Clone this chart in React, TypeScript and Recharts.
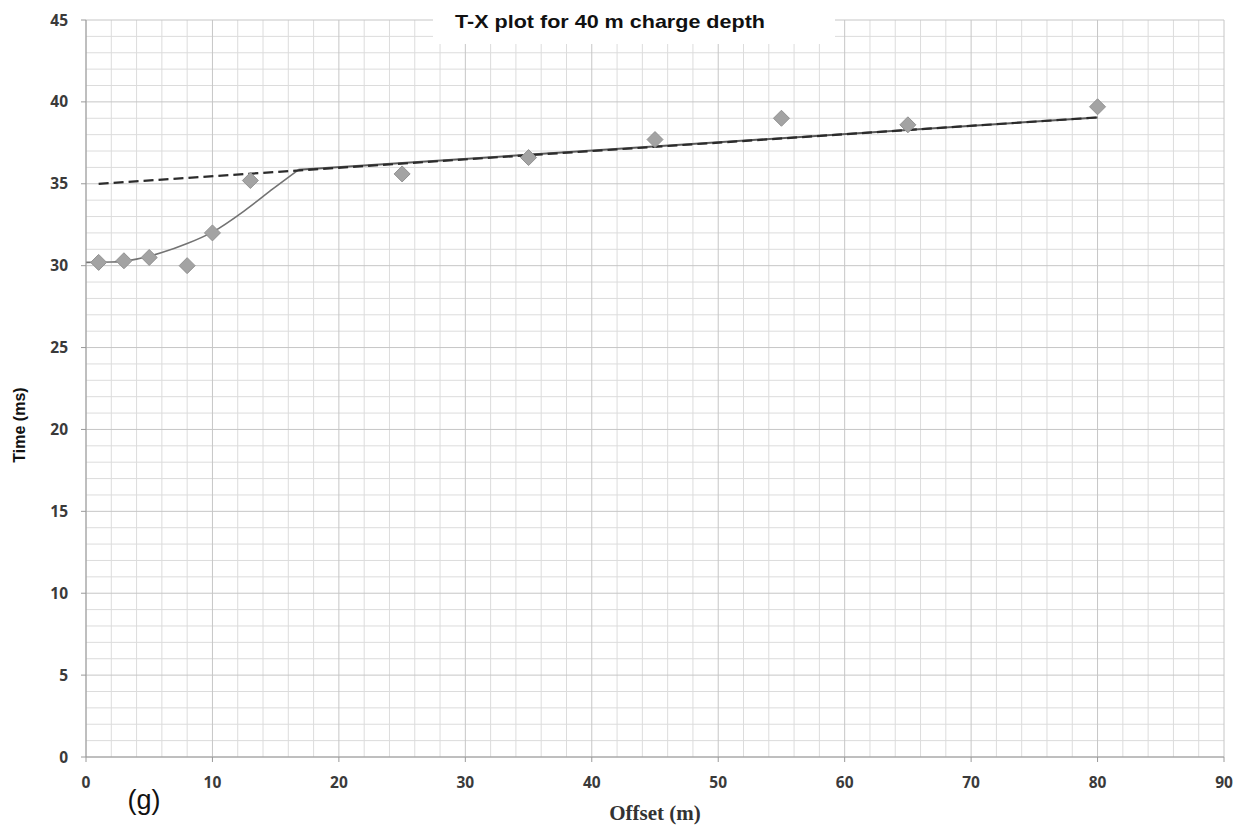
import React from "react";
import {
  ComposedChart,
  Line,
  Scatter,
  XAxis,
  YAxis,
  ReferenceLine,
} from "recharts";

// Measured first-arrival times (picked from the record)
const offsets = [1, 3, 5, 8, 10, 13, 25, 35, 45, 55, 65, 80];
const times = [30.2, 30.3, 30.5, 30.0, 32.0, 35.2, 35.6, 36.6, 37.7, 39.0, 38.6, 39.7];

// Hand-drawn direct-arrival curve (thin grey)
const curveX = [0, 2, 4, 6, 8, 10, 12.7, 14.8, 16.8];
const curveT = [30.2, 30.22, 30.4, 30.8, 31.35, 32.05, 33.45, 34.7, 35.85];

// Refracted-arrival fit, dashed back to the intercept
const fitX = [1, 80];
const fitT = [35.0, 39.05];
const refrX = [16.8, 80];
const refrT = [35.85, 39.05];

const xTicks = [0, 10, 20, 30, 40, 50, 60, 70, 80, 90];
const yTicks = [0, 5, 10, 15, 20, 25, 30, 35, 40, 45];
const xMinor = Array.from({ length: 46 }, (_, i) => i * 2);
const yMinor = Array.from({ length: 46 }, (_, i) => i);

const points = offsets.map((x, i) => ({ x, t: times[i] }));
const curve = curveX.map((x, i) => ({ x, t: curveT[i] }));
const fit = fitX.map((x, i) => ({ x, t: fitT[i] }));
const refr = refrX.map((x, i) => ({ x, t: refrT[i] }));

// tick text drawn by hand so the font sticks
const XTick = (props: any) => {
  const { x, y, payload } = props;
  return (
    <text
      x={x}
      y={y}
      dy={12}
      textAnchor="middle"
      fontFamily="'Open Sans', sans-serif"
      fontWeight={700}
      fontSize={15.5}
      fill="#3a3a3a"
    >
      {payload.value}
    </text>
  );
};

const YTick = (props: any) => {
  const { x, y, payload } = props;
  return (
    <text
      x={x}
      y={y}
      dy={5.5}
      textAnchor="end"
      fontFamily="'Open Sans', sans-serif"
      fontWeight={700}
      fontSize={15.5}
      fill="#3a3a3a"
    >
      {payload.value}
    </text>
  );
};

// grey diamond like the spreadsheet marker
const Diamond = (props: any) => {
  const { cx, cy } = props;
  const r = 8;
  return (
    <polygon
      points={`${cx},${cy - r} ${cx + r},${cy} ${cx},${cy + r} ${cx - r},${cy}`}
      fill="#a3a3a3"
      stroke="#929292"
      strokeWidth={1}
    />
  );
};

export default function App() {
  return (
    <div
      style={{
        position: "absolute",
        left: 0,
        top: 0,
        width: 1242,
        height: 833,
        background: "#fff",
      }}
    >
      <ComposedChart
        width={1242}
        height={833}
        margin={{ top: 20, right: 18, bottom: 0, left: 16 }}
      >
        {/* paper grid: minor lines first, major on top */}
        {xMinor
          .filter((v) => v % 10 !== 0)
          .map((v) => (
            <ReferenceLine key={"xm" + v} x={v} stroke="#dcdcdc" strokeWidth={1} />
          ))}
        {yMinor
          .filter((v) => v % 5 !== 0)
          .map((v) => (
            <ReferenceLine key={"ym" + v} y={v} stroke="#dcdcdc" strokeWidth={1} />
          ))}
        {xTicks.map((v) => (
          <ReferenceLine key={"xM" + v} x={v} stroke="#c6c6c6" strokeWidth={1} />
        ))}
        {yTicks.map((v) => (
          <ReferenceLine key={"yM" + v} y={v} stroke="#c6c6c6" strokeWidth={1} />
        ))}

        <XAxis
          dataKey="x"
          type="number"
          domain={[0, 90]}
          ticks={xTicks}
          height={76}
          tickSize={5}
          tickMargin={14}
          tick={<XTick />}
          stroke="#9a9a9a"
          allowDataOverflow
        />
        <YAxis
          type="number"
          domain={[0, 45]}
          ticks={yTicks}
          width={70}
          tickSize={5}
          tickMargin={13}
          tick={<YTick />}
          stroke="#9a9a9a"
          allowDataOverflow
        />

        <Line
          data={curve}
          dataKey="t"
          type="monotone"
          stroke="#737373"
          strokeWidth={1.6}
          dot={false}
          activeDot={false}
          isAnimationActive={false}
        />
        <Line
          data={refr}
          dataKey="t"
          type="linear"
          stroke="#5a5a5a"
          strokeWidth={2}
          dot={false}
          activeDot={false}
          isAnimationActive={false}
        />
        <Line
          data={fit}
          dataKey="t"
          type="linear"
          stroke="#2b2b2b"
          strokeWidth={2.2}
          strokeDasharray="10 5"
          dot={false}
          activeDot={false}
          isAnimationActive={false}
        />
        <Scatter
          data={points}
          dataKey="t"
          shape={Diamond}
          isAnimationActive={false}
        />
      </ComposedChart>

      {/* title box, axis titles and panel letter */}
      <svg
        width={1242}
        height={833}
        style={{ position: "absolute", left: 0, top: 0, pointerEvents: "none" }}
      >
        <rect x={433} y={0} width={402} height={44} fill="#fff" />
        <text
          x={455}
          y={28}
          fontFamily="'Liberation Sans', Arial, sans-serif"
          fontWeight="bold"
          fontSize={19}
          fill="#111"
          textLength={310}
          lengthAdjust="spacingAndGlyphs"
        >
          T-X plot for 40 m charge depth
        </text>
        <text
          x={0}
          y={0}
          transform="translate(25 425) rotate(-90)"
          textAnchor="middle"
          fontFamily="'Liberation Sans', Arial, sans-serif"
          fontWeight="bold"
          fontSize={16}
          fill="#111"
        >
          Time (ms)
        </text>
        <text
          x={655}
          y={820}
          textAnchor="middle"
          fontFamily="'Liberation Serif', 'Times New Roman', serif"
          fontWeight="bold"
          fontSize={21}
          fill="#333"
        >
          Offset (m)
        </text>
        <text
          x={144}
          y={809}
          textAnchor="middle"
          fontFamily="'Liberation Sans', Arial, sans-serif"
          fontSize={27}
          fill="#111"
        >
          (g)
        </text>
      </svg>
    </div>
  );
}
